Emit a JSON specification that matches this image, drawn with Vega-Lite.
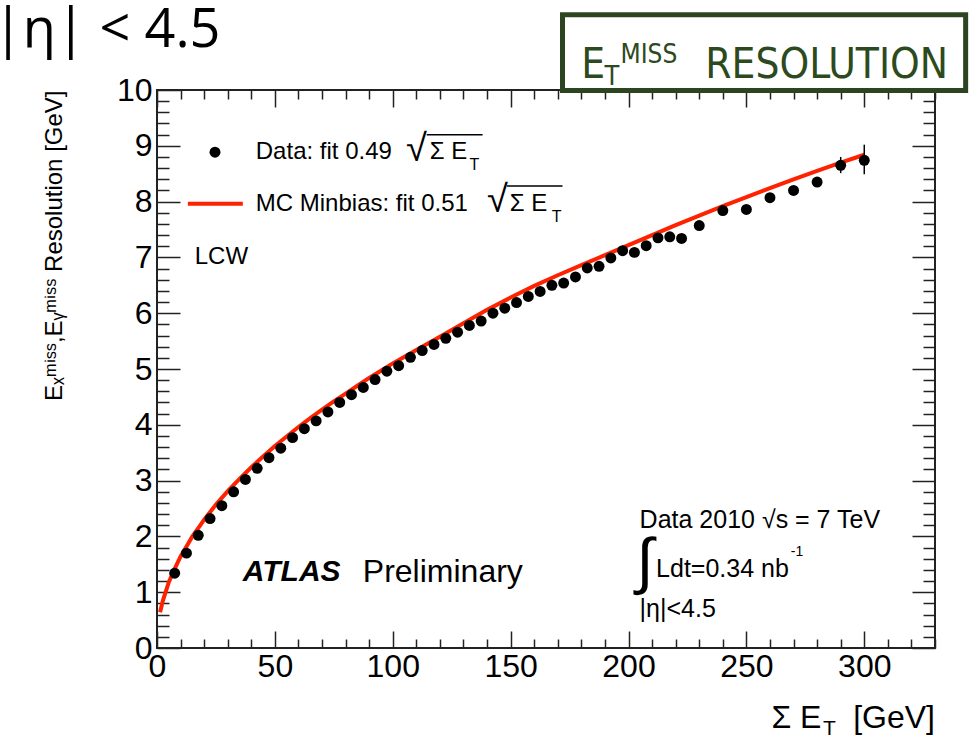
{
  "$schema": "https://vega.github.io/schema/vega-lite/v6.json",
  "width": 778,
  "height": 558,
  "autosize": {"type": "none"},
  "padding": {"left": 157, "top": 90, "right": 40, "bottom": 95},
  "background": "white",
  "config": {
    "font": "Liberation Sans",
    "view": {"stroke": "#222222", "strokeWidth": 2},
    "axis": {"grid": false, "domain": false, "tickColor": "#222222", "tickWidth": 1.5, "labelColor": "black", "labelFont": "Liberation Sans", "labelOverlap": false, "labelBound": false, "labelFlush": false}
  },
  "datasets": {
    "pts": [
      {"x": 7.5, "y": 1.34}, {"x": 12.5, "y": 1.70}, {"x": 17.5, "y": 2.02}, {"x": 22.5, "y": 2.32}, {"x": 27.5, "y": 2.55},
      {"x": 32.5, "y": 2.80}, {"x": 37.5, "y": 3.02}, {"x": 42.5, "y": 3.22}, {"x": 47.5, "y": 3.41}, {"x": 52.5, "y": 3.58},
      {"x": 57.5, "y": 3.77}, {"x": 62.5, "y": 3.93}, {"x": 67.5, "y": 4.07}, {"x": 72.5, "y": 4.23}, {"x": 77.5, "y": 4.40},
      {"x": 82.5, "y": 4.54}, {"x": 87.5, "y": 4.67}, {"x": 92.5, "y": 4.81}, {"x": 97.5, "y": 4.96}, {"x": 102.5, "y": 5.06},
      {"x": 107.5, "y": 5.21}, {"x": 112.5, "y": 5.33}, {"x": 117.5, "y": 5.44}, {"x": 122.5, "y": 5.55}, {"x": 127.5, "y": 5.66},
      {"x": 132.5, "y": 5.78}, {"x": 137.5, "y": 5.86}, {"x": 142.5, "y": 6.00}, {"x": 147.5, "y": 6.09}, {"x": 152.5, "y": 6.19},
      {"x": 157.5, "y": 6.30}, {"x": 162.5, "y": 6.39}, {"x": 167.5, "y": 6.50}, {"x": 172.5, "y": 6.54}, {"x": 177.5, "y": 6.65},
      {"x": 182.5, "y": 6.81}, {"x": 187.5, "y": 6.84}, {"x": 192.5, "y": 6.99}, {"x": 197.5, "y": 7.12}, {"x": 202.5, "y": 7.09},
      {"x": 207.5, "y": 7.21}, {"x": 212.5, "y": 7.35}, {"x": 217.5, "y": 7.37}, {"x": 222.5, "y": 7.34}, {"x": 230, "y": 7.57},
      {"x": 240, "y": 7.84}, {"x": 250, "y": 7.86}, {"x": 260, "y": 8.07}, {"x": 270, "y": 8.20}, {"x": 280, "y": 8.35},
      {"x": 290, "y": 8.65}, {"x": 300, "y": 8.74}
    ],
    "err": [
      {"x": 290, "lo": 8.51, "hi": 8.80},
      {"x": 300, "lo": 8.49, "hi": 9.02}
    ],
    "mc": [
      {"x": 1.3, "y": 0.64}, {"x": 2.5, "y": 0.85}, {"x": 5, "y": 1.18}, {"x": 7.5, "y": 1.42}, {"x": 10, "y": 1.64},
      {"x": 12.5, "y": 1.82}, {"x": 15, "y": 2.0}, {"x": 17.5, "y": 2.15}, {"x": 20, "y": 2.3}, {"x": 25, "y": 2.57},
      {"x": 30, "y": 2.81}, {"x": 35, "y": 3.03}, {"x": 40, "y": 3.24}, {"x": 45, "y": 3.43}, {"x": 50, "y": 3.62},
      {"x": 55, "y": 3.79}, {"x": 60, "y": 3.96}, {"x": 65, "y": 4.12}, {"x": 70, "y": 4.27}, {"x": 75, "y": 4.42},
      {"x": 80, "y": 4.56}, {"x": 85, "y": 4.70}, {"x": 90, "y": 4.84}, {"x": 95, "y": 4.97}, {"x": 100, "y": 5.10},
      {"x": 110, "y": 5.34}, {"x": 120, "y": 5.58}, {"x": 130, "y": 5.82}, {"x": 140, "y": 6.06}, {"x": 150, "y": 6.28},
      {"x": 160, "y": 6.49}, {"x": 170, "y": 6.68}, {"x": 180, "y": 6.86}, {"x": 190, "y": 7.04}, {"x": 200, "y": 7.22},
      {"x": 210, "y": 7.40}, {"x": 220, "y": 7.58}, {"x": 230, "y": 7.75}, {"x": 240, "y": 7.92}, {"x": 250, "y": 8.08},
      {"x": 260, "y": 8.24}, {"x": 270, "y": 8.40}, {"x": 280, "y": 8.55}, {"x": 290, "y": 8.70}, {"x": 300, "y": 8.84}
    ]
  },
  "resolve": {"axis": {"x": "independent", "y": "independent"}},
  "layer": [
    {
      "data": {"name": "mc"},
      "mark": {"type": "line", "color": "#ff2200", "strokeWidth": 4, "clip": true},
      "encoding": {
        "x": {"field": "x", "type": "quantitative", "scale": {"domain": [0, 330], "nice": false, "zero": false},
          "axis": {"orient": "top", "values": [0,10,20,30,40,50,60,70,80,90,100,110,120,130,140,150,160,170,180,190,200,210,220,230,240,250,260,270,280,290,300,310,320,330],
            "labels": false, "title": null, "tickSize": {"condition": {"test": "datum.value % 50 === 0", "value": -17}, "value": -9}}},
        "y": {"field": "y", "type": "quantitative", "scale": {"domain": [0, 10], "nice": false, "zero": false},
          "axis": {"orient": "right", "values": [0,0.2,0.4,0.6,0.8,1,1.2,1.4,1.6,1.8,2,2.2,2.4,2.6,2.8,3,3.2,3.4,3.6,3.8,4,4.2,4.4,4.6,4.8,5,5.2,5.4,5.6,5.8,6,6.2,6.4,6.6,6.8,7,7.2,7.4,7.6,7.8,8,8.2,8.4,8.6,8.8,9,9.2,9.4,9.6,9.8,10],
            "labels": false, "title": null, "tickSize": {"condition": {"test": "datum.value % 1 === 0", "value": -23}, "value": -12}}}
      }
    },
    {
      "data": {"name": "err"},
      "mark": {"type": "rule", "color": "black", "strokeWidth": 1.5},
      "encoding": {
        "x": {"field": "x", "type": "quantitative", "axis": null},
        "y": {"field": "lo", "type": "quantitative", "axis": null},
        "y2": {"field": "hi"}
      }
    },
    {
      "data": {"name": "pts"},
      "mark": {"type": "circle", "color": "black", "size": 120, "opacity": 1},
      "encoding": {
        "x": {"field": "x", "type": "quantitative",
          "axis": {"orient": "bottom", "values": [0,10,20,30,40,50,60,70,80,90,100,110,120,130,140,150,160,170,180,190,200,210,220,230,240,250,260,270,280,290,300,310,320,330],
            "labelExpr": "datum.value % 50 === 0 ? format(datum.value, 'd') : ''", "labelFontSize": 32, "labelPadding": 20, "title": null,
            "tickSize": {"condition": {"test": "datum.value % 50 === 0", "value": -17}, "value": -9}}},
        "y": {"field": "y", "type": "quantitative",
          "axis": {"orient": "left", "values": [0,0.2,0.4,0.6,0.8,1,1.2,1.4,1.6,1.8,2,2.2,2.4,2.6,2.8,3,3.2,3.4,3.6,3.8,4,4.2,4.4,4.6,4.8,5,5.2,5.4,5.6,5.8,6,6.2,6.4,6.6,6.8,7,7.2,7.4,7.6,7.8,8,8.2,8.4,8.6,8.8,9,9.2,9.4,9.6,9.8,10],
            "labelExpr": "datum.value % 1 === 0 ? format(datum.value, 'd') : ''", "labelFontSize": 32, "labelPadding": 28,
            "title": "Eₓᵐⁱˢˢ,Eᵧᵐⁱˢˢ Resolution [GeV]", "titleFontSize": 24, "titleFontWeight": "normal", "titleColor": "black", "titleAnchor": "end", "titlePadding": 50,
            "tickSize": {"condition": {"test": "datum.value % 1 === 0", "value": -23}, "value": -12}}}
      }
    },
    {
      "data": {"values": [{"x": 24.6, "y": 8.885}]},
      "mark": {"type": "circle", "color": "black", "size": 120, "opacity": 1, "clip": false},
      "encoding": {"x": {"field": "x", "type": "quantitative", "axis": null}, "y": {"field": "y", "type": "quantitative", "axis": null}}
    },
    {
      "data": {"values": [{"x": 13.1, "y": 7.96}, {"x": 36.4, "y": 7.96}]},
      "mark": {"type": "line", "color": "#ff2200", "strokeWidth": 4},
      "encoding": {"x": {"field": "x", "type": "quantitative", "axis": null}, "y": {"field": "y", "type": "quantitative", "axis": null}}
    },
    {
      "data": {"values": [{"x": 41.9, "y": 8.88, "t": "Data: fit 0.49"}, {"x": 41.9, "y": 7.96, "t": "MC Minbias: fit 0.51"}, {"x": 16, "y": 7.01, "t": "LCW"}, {"x": 115.7, "y": 8.88, "t": "Σ E"}, {"x": 149.6, "y": 7.96, "t": "Σ E"}]},
      "mark": {"type": "text", "align": "left", "baseline": "middle", "fontSize": 24, "color": "black", "clip": false},
      "encoding": {"x": {"field": "x", "type": "quantitative", "axis": null}, "y": {"field": "y", "type": "quantitative", "axis": null}, "text": {"field": "t"}}
    },
    {
      "data": {"values": [{"x": 105.6, "y": 8.93, "t": "√"}, {"x": 140.0, "y": 8.01, "t": "√"}]},
      "mark": {"type": "text", "align": "left", "baseline": "middle", "fontSize": 38, "color": "black", "clip": false},
      "encoding": {"x": {"field": "x", "type": "quantitative", "axis": null}, "y": {"field": "y", "type": "quantitative", "axis": null}, "text": {"field": "t"}}
    },
    {
      "data": {"values": [{"x": 132.6, "y": 8.65, "t": "T"}, {"x": 167.4, "y": 7.73, "t": "T"}]},
      "mark": {"type": "text", "align": "left", "baseline": "middle", "fontSize": 16, "color": "black", "clip": false},
      "encoding": {"x": {"field": "x", "type": "quantitative", "axis": null}, "y": {"field": "y", "type": "quantitative", "axis": null}, "text": {"field": "t"}}
    },
    {
      "data": {"values": [{"x": 114.4, "x2": 138.1, "y": 9.20}, {"x": 148.4, "x2": 172.0, "y": 8.28}]},
      "mark": {"type": "rule", "color": "black", "strokeWidth": 1.5},
      "encoding": {"x": {"field": "x", "type": "quantitative", "axis": null}, "x2": {"field": "x2"}, "y": {"field": "y", "type": "quantitative", "axis": null}}
    },
    {
      "data": {"values": [{"x": 36.4, "y": 1.36, "t": "ATLAS"}]},
      "mark": {"type": "text", "align": "left", "baseline": "middle", "fontSize": 30, "fontWeight": "bold", "fontStyle": "italic", "color": "black", "clip": false},
      "encoding": {"x": {"field": "x", "type": "quantitative", "axis": null}, "y": {"field": "y", "type": "quantitative", "axis": null}, "text": {"field": "t"}}
    },
    {
      "data": {"values": [{"x": 87.3, "y": 1.36, "t": "Preliminary"}]},
      "mark": {"type": "text", "align": "left", "baseline": "middle", "fontSize": 32, "color": "black", "clip": false},
      "encoding": {"x": {"field": "x", "type": "quantitative", "axis": null}, "y": {"field": "y", "type": "quantitative", "axis": null}, "text": {"field": "t"}}
    },
    {
      "data": {"values": [{"x": 204.7, "y": 2.30, "t": "Data 2010  √s = 7 TeV"}, {"x": 211.7, "y": 1.42, "t": "Ldt=0.34 nb"}, {"x": 204.7, "y": 0.70, "t": "|η|<4.5"}]},
      "mark": {"type": "text", "align": "left", "baseline": "middle", "fontSize": 25, "color": "black", "clip": false},
      "encoding": {"x": {"field": "x", "type": "quantitative", "axis": null}, "y": {"field": "y", "type": "quantitative", "axis": null}, "text": {"field": "t"}}
    },
    {
      "data": {"values": [{"x": 203.3, "y": 1.52, "t": "∫"}]},
      "mark": {"type": "text", "align": "left", "baseline": "middle", "fontSize": 62, "color": "black", "clip": false},
      "encoding": {"x": {"field": "x", "type": "quantitative", "axis": null}, "y": {"field": "y", "type": "quantitative", "axis": null}, "text": {"field": "t"}}
    },
    {
      "data": {"values": [{"x": 268.8, "y": 1.72, "t": "-1"}]},
      "mark": {"type": "text", "align": "left", "baseline": "middle", "fontSize": 14, "color": "black", "clip": false},
      "encoding": {"x": {"field": "x", "type": "quantitative", "axis": null}, "y": {"field": "y", "type": "quantitative", "axis": null}, "text": {"field": "t"}}
    },
    {
      "data": {"values": [{"x": 260.6, "y": -1.26, "t": "Σ E"}]},
      "mark": {"type": "text", "align": "left", "baseline": "middle", "fontSize": 32, "color": "black", "clip": false},
      "encoding": {"x": {"field": "x", "type": "quantitative", "axis": null}, "y": {"field": "y", "type": "quantitative", "axis": null}, "text": {"field": "t"}}
    },
    {
      "data": {"values": [{"x": 282.5, "y": -1.45, "t": "T"}]},
      "mark": {"type": "text", "align": "left", "baseline": "middle", "fontSize": 21, "color": "black", "clip": false},
      "encoding": {"x": {"field": "x", "type": "quantitative", "axis": null}, "y": {"field": "y", "type": "quantitative", "axis": null}, "text": {"field": "t"}}
    },
    {
      "data": {"values": [{"x": 330, "y": -1.26, "t": "[GeV]"}]},
      "mark": {"type": "text", "align": "right", "baseline": "middle", "fontSize": 32, "color": "black", "clip": false},
      "encoding": {"x": {"field": "x", "type": "quantitative", "axis": null}, "y": {"field": "y", "type": "quantitative", "axis": null}, "text": {"field": "t"}}
    },
    {
      "data": {"values": [{"x": -69.5, "y": 10.77, "t": "|η| < 4.5"}]},
      "mark": {"type": "text", "align": "left", "baseline": "alphabetic", "fontSize": 54, "font": "Open Sans", "color": "black", "clip": false},
      "encoding": {"x": {"field": "x", "type": "quantitative", "axis": null}, "y": {"field": "y", "type": "quantitative", "axis": null}, "text": {"field": "t"}}
    },
    {
      "data": {"values": [{"x": 172, "x2": 343, "y": 11.35, "y2": 9.99}]},
      "mark": {"type": "rect", "fill": "white", "stroke": "#2d4420", "strokeWidth": 5, "clip": false},
      "encoding": {"x": {"field": "x", "type": "quantitative", "axis": null}, "x2": {"field": "x2"}, "y": {"field": "y", "type": "quantitative", "axis": null}, "y2": {"field": "y2"}}
    },
    {
      "data": {"values": [{"x": 180, "y": 10.45, "t": "E"}, {"x": 232.6, "y": 10.45, "t": "RESOLUTION"}]},
      "mark": {"type": "text", "align": "left", "baseline": "middle", "fontSize": 42, "font": "DejaVu Sans Condensed", "color": "#2d4a1e", "clip": false},
      "encoding": {"x": {"field": "x", "type": "quantitative", "axis": null}, "y": {"field": "y", "type": "quantitative", "axis": null}, "text": {"field": "t"}}
    },
    {
      "data": {"values": [{"x": 189.8, "y": 10.24, "t": "T"}]},
      "mark": {"type": "text", "align": "left", "baseline": "middle", "fontSize": 27, "font": "DejaVu Sans Condensed", "color": "#2d4a1e", "clip": false},
      "encoding": {"x": {"field": "x", "type": "quantitative", "axis": null}, "y": {"field": "y", "type": "quantitative", "axis": null}, "text": {"field": "t"}}
    },
    {
      "data": {"values": [{"x": 196.6, "y": 10.62, "t": "MISS"}]},
      "mark": {"type": "text", "align": "left", "baseline": "middle", "fontSize": 26, "font": "DejaVu Sans Condensed", "color": "#2d4a1e", "clip": false},
      "encoding": {"x": {"field": "x", "type": "quantitative", "axis": null}, "y": {"field": "y", "type": "quantitative", "axis": null}, "text": {"field": "t"}}
    }
  ]
}
